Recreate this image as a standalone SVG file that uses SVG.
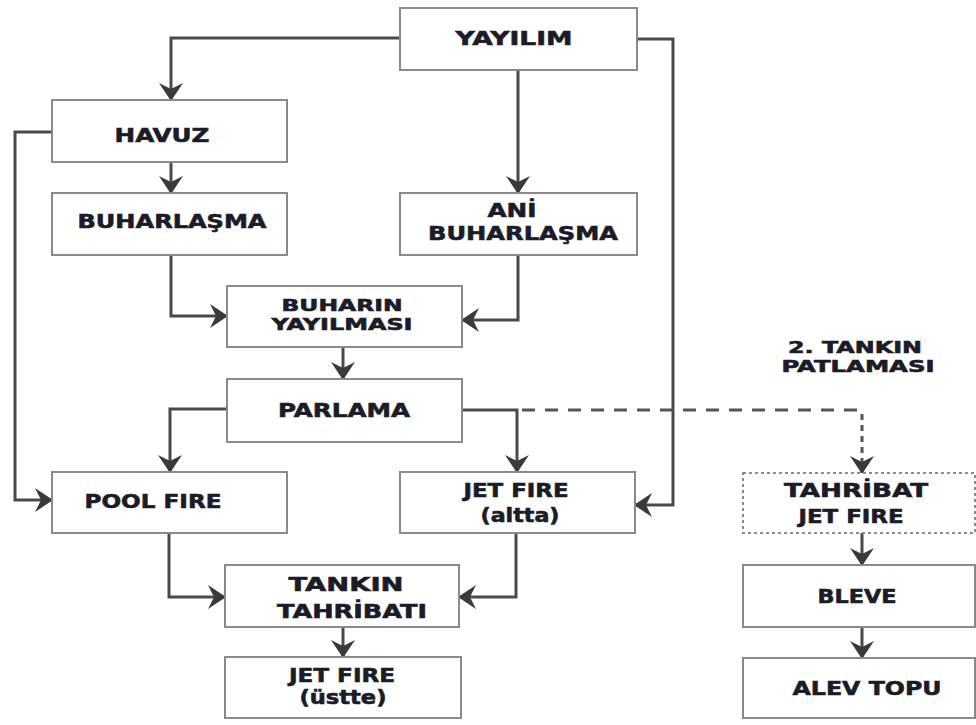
<svg xmlns="http://www.w3.org/2000/svg" width="976" height="725" viewBox="0 0 976 725">
<style>
.box{fill:#ffffff;stroke:#8a8a8a;stroke-width:2}
.dot{fill:#ffffff;stroke:#8a8a8a;stroke-width:2;stroke-dasharray:3 3}
.ln{fill:none;stroke:#4a4a4a;stroke-width:3}
.dh{fill:none;stroke:#555;stroke-width:3;stroke-dasharray:13 10}
.dv{fill:none;stroke:#555;stroke-width:3;stroke-dasharray:6 5}
text{font-family:"DejaVu Sans","Liberation Sans",sans-serif;font-weight:bold;font-size:19px;fill:#1c1c28;stroke:#1c1c28;stroke-width:0.6;text-anchor:middle}
text.s{font-size:16px}
</style>
<defs>
<marker id="ah" markerUnits="userSpaceOnUse" viewBox="0 0 18 24" refX="17" refY="12" markerWidth="18" markerHeight="24" orient="auto">
<path d="M0,0 L18,12 L0,24 L6,12 Z" fill="#3a3a3a"/>
</marker>
</defs>
<rect width="976" height="725" fill="#ffffff"/>
<g id="connectors">
<path class="ln" d="M400,38 H171 V100" marker-end="url(#ah)"/>
<path class="ln" d="M518,70 V193" marker-end="url(#ah)"/>
<path class="ln" d="M637,39 H673 V505 H635" marker-end="url(#ah)"/>
<path class="ln" d="M52,132 H15 V500 H52" marker-end="url(#ah)"/>
<path class="ln" d="M171,162 V193" marker-end="url(#ah)"/>
<path class="ln" d="M171,255 V316 H227" marker-end="url(#ah)"/>
<path class="ln" d="M518,255 V320 H462" marker-end="url(#ah)"/>
<path class="ln" d="M343,347 V379" marker-end="url(#ah)"/>
<path class="ln" d="M227,409 H170 V472" marker-end="url(#ah)"/>
<path class="ln" d="M462,410 H517 V472" marker-end="url(#ah)"/>
<path class="dh" d="M522,410 H862"/>
<path class="dv" d="M862,414 V473" marker-end="url(#ah)"/>
<path class="ln" d="M169,533 V597 H225" marker-end="url(#ah)"/>
<path class="ln" d="M516,533 V597 H459" marker-end="url(#ah)"/>
<path class="ln" d="M343,627 V657" marker-end="url(#ah)"/>
<path class="ln" d="M862,533 V565" marker-end="url(#ah)"/>
<path class="ln" d="M862,627 V658" marker-end="url(#ah)"/>
</g>
<g id="yayilim"><rect class="box" x="400" y="8" width="237" height="62"/><text x="514" y="45" textLength="117" lengthAdjust="spacingAndGlyphs">YAYILIM</text></g>
<g id="havuz"><rect class="box" x="52" y="100" width="235" height="62"/><text x="162" y="142" textLength="95" lengthAdjust="spacingAndGlyphs">HAVUZ</text></g>
<g id="buharlasma"><rect class="box" x="52" y="193" width="235" height="62"/><text x="172" y="228" textLength="189" lengthAdjust="spacingAndGlyphs">BUHARLAŞMA</text></g>
<g id="ani-buharlasma"><rect class="box" x="400" y="193" width="237" height="62"/><text x="512" y="217" textLength="49" lengthAdjust="spacingAndGlyphs">ANİ</text><text x="523" y="240" textLength="190" lengthAdjust="spacingAndGlyphs">BUHARLAŞMA</text></g>
<g id="buharin-yayilmasi"><rect class="box" x="227" y="286" width="235" height="61"/><text class="s" x="342" y="311" textLength="121" lengthAdjust="spacingAndGlyphs">BUHARIN</text><text class="s" x="342" y="330" textLength="141" lengthAdjust="spacingAndGlyphs">YAYILMASI</text></g>
<g id="parlama"><rect class="box" x="227" y="379" width="235" height="63"/><text x="344" y="417" textLength="132" lengthAdjust="spacingAndGlyphs">PARLAMA</text></g>
<g id="pool-fire"><rect class="box" x="52" y="472" width="235" height="61"/><text x="153" y="508" textLength="137" lengthAdjust="spacingAndGlyphs">POOL FIRE</text></g>
<g id="jet-fire-altta"><rect class="box" x="400" y="472" width="235" height="61"/><text x="516" y="497" textLength="105" lengthAdjust="spacingAndGlyphs">JET FIRE</text><text x="520" y="522" textLength="79" lengthAdjust="spacingAndGlyphs">(altta)</text></g>
<g id="tankin-tahribati"><rect class="box" x="225" y="565" width="234" height="62"/><text x="346" y="591" textLength="115" lengthAdjust="spacingAndGlyphs">TANKIN</text><text x="352" y="618" textLength="150" lengthAdjust="spacingAndGlyphs">TAHRİBATI</text></g>
<g id="jet-fire-ustte"><rect class="box" x="225" y="657" width="236" height="61"/><text x="342" y="682" textLength="106" lengthAdjust="spacingAndGlyphs">JET FIRE</text><text x="343" y="704" textLength="87" lengthAdjust="spacingAndGlyphs">(üstte)</text></g>
<g id="tankin-patlamasi"><text class="s" x="855" y="353" textLength="134" lengthAdjust="spacingAndGlyphs">2. TANKIN</text><text class="s" x="858" y="372" textLength="153" lengthAdjust="spacingAndGlyphs">PATLAMASI</text></g>
<g id="tahribat-jet-fire"><rect class="dot" x="743" y="473" width="232" height="60"/><text x="856" y="497" textLength="144" lengthAdjust="spacingAndGlyphs">TAHRİBAT</text><text x="851" y="523" textLength="105" lengthAdjust="spacingAndGlyphs">JET FIRE</text></g>
<g id="bleve"><rect class="box" x="743" y="565" width="232" height="62"/><text x="857" y="603" textLength="79" lengthAdjust="spacingAndGlyphs">BLEVE</text></g>
<g id="alev-topu"><rect class="box" x="743" y="658" width="232" height="60"/><text x="867" y="695" textLength="149" lengthAdjust="spacingAndGlyphs">ALEV TOPU</text></g>
</svg>
